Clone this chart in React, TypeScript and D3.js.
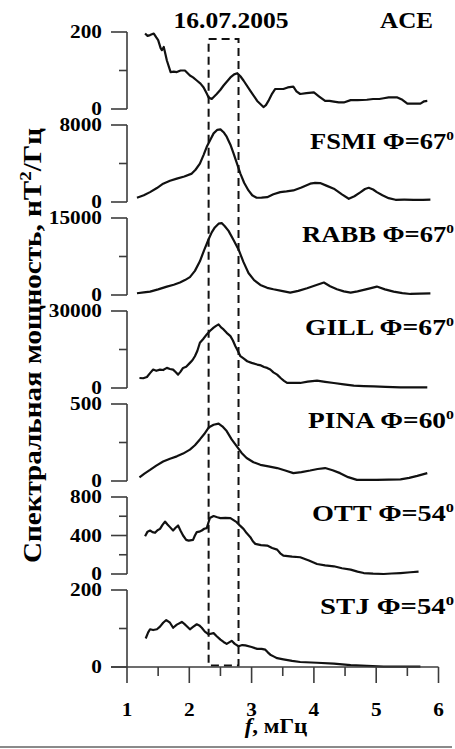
import React from "react";
import * as d3 from "d3";

const W = 455;
const H = 749;
const FONT = "'Liberation Serif', 'Times New Roman', serif";
const SX = 1.15;

const TITLE = "16.07.2005";
const STATIONS = ["ACE", "FSMI", "RABB", "GILL", "PINA", "OTT", "STJ"];
const PHI = ["", "67", "67", "67", "60", "54", "54"];
const Y_MAX = [200, 8000, 15000, 30000, 500, 800, 200];
const Y_TICK_STEP = [100, 4000, 7500, 15000, 250, 200, 100];
const Y_LABEL_STEP = [200, 8000, 15000, 30000, 500, 400, 200];
const X_TICKS = [1, 2, 3, 4, 5, 6];
const X_MINOR = [1.5, 2.5, 3.5, 4.5, 5.5];
const WINDOW_F = [2.31, 2.79];

const ACE: [number, number][] = [
  [1.29, 196], [1.33, 190], [1.37, 192], [1.43, 196], [1.47, 186], [1.5, 179], [1.54, 158], [1.56, 153],
  [1.59, 161], [1.62, 140], [1.64, 126], [1.7, 96], [1.75, 97], [1.8, 96], [1.86, 100], [1.93, 100],
  [2.01, 87], [2.06, 82], [2.12, 74], [2.18, 66], [2.23, 56], [2.28, 40], [2.31, 30], [2.36, 26],
  [2.44, 39], [2.5, 50], [2.55, 61], [2.66, 82], [2.72, 90], [2.77, 93], [2.82, 85], [2.87, 74],
  [2.98, 47], [3.09, 21], [3.19, 5], [3.23, 10], [3.27, 21], [3.33, 40], [3.38, 52], [3.45, 52],
  [3.51, 52], [3.58, 56], [3.67, 58], [3.72, 46], [3.78, 39], [3.88, 41], [4.0, 43], [4.08, 33],
  [4.18, 21], [4.25, 21], [4.32, 19], [4.4, 17], [4.48, 17], [4.59, 23], [4.7, 23], [4.85, 24],
  [4.95, 26], [5.05, 26], [5.12, 28], [5.2, 30], [5.34, 30], [5.42, 24], [5.5, 14], [5.6, 14],
  [5.71, 14], [5.77, 20], [5.82, 21],
];

const FSMI: [number, number][] = [
  [1.16, 440], [1.27, 700], [1.37, 1025], [1.48, 1450], [1.58, 1900], [1.69, 2200], [1.8, 2425],
  [1.92, 2650], [2.04, 2950], [2.1, 3350], [2.17, 3990], [2.23, 4900], [2.28, 5730], [2.34, 6500],
  [2.39, 7130], [2.45, 7500], [2.5, 7550], [2.55, 7250], [2.6, 6780], [2.66, 5950], [2.71, 5040],
  [2.77, 3900], [2.82, 2950], [2.88, 2000], [2.95, 1200], [3.01, 700], [3.08, 440], [3.16, 450],
  [3.25, 500], [3.35, 800], [3.46, 1025], [3.56, 1100], [3.67, 1200], [3.8, 1500], [3.94, 1900],
  [4.02, 1980], [4.1, 1970], [4.2, 1700], [4.32, 1380], [4.45, 800], [4.56, 335], [4.65, 600],
  [4.75, 1025], [4.82, 1350], [4.88, 1480], [4.95, 1300], [5.01, 1025], [5.1, 700], [5.2, 400],
  [5.31, 230], [5.45, 240], [5.6, 230], [5.75, 220], [5.87, 240],
];

const RABB: [number, number][] = [
  [1.16, 335], [1.27, 500], [1.37, 650], [1.5, 1100], [1.64, 1640], [1.75, 2000], [1.85, 2430],
  [1.93, 2900], [2.01, 3490], [2.09, 4700], [2.17, 6570], [2.24, 8800], [2.31, 10860], [2.36, 12200],
  [2.41, 13160], [2.47, 13900], [2.52, 14010], [2.57, 13400], [2.63, 12490], [2.71, 10700],
  [2.79, 8880], [2.87, 6400], [2.95, 4280], [3.04, 2900], [3.14, 1970], [3.25, 1400], [3.35, 1120],
  [3.48, 800], [3.62, 450], [3.75, 800], [3.89, 1320], [4.03, 1900], [4.16, 2430], [4.26, 1700],
  [4.37, 1120], [4.48, 700], [4.59, 450], [4.7, 700], [4.8, 990], [4.9, 1300], [5.01, 1640],
  [5.14, 1100], [5.28, 650], [5.42, 350], [5.55, 200], [5.7, 250], [5.87, 335],
];

const GILL: [number, number][] = [
  [1.2, 3900], [1.26, 3800], [1.32, 4300], [1.37, 5800], [1.42, 7170], [1.47, 6700], [1.53, 7170],
  [1.58, 7000], [1.64, 7830], [1.69, 7400], [1.74, 7170], [1.78, 6200], [1.82, 5210], [1.86, 6400],
  [1.9, 7830], [1.95, 8300], [2.01, 9790], [2.05, 10800], [2.09, 12380], [2.13, 14500], [2.17, 17620],
  [2.22, 19000], [2.28, 20870], [2.33, 22200], [2.39, 23500], [2.43, 24200], [2.47, 24790],
  [2.51, 23600], [2.55, 22830], [2.6, 21500], [2.66, 20210], [2.7, 18500], [2.74, 16290],
  [2.78, 14400], [2.82, 12380], [2.87, 11500], [2.93, 10420], [3.0, 9800], [3.09, 9130],
  [3.15, 8800], [3.2, 8200], [3.25, 7830], [3.3, 7200], [3.35, 6100], [3.41, 5210], [3.47, 3800],
  [3.52, 2800], [3.57, 1960], [3.67, 2000], [3.78, 1960], [3.9, 2500], [4.05, 2860], [4.18, 2400],
  [4.32, 1960], [4.48, 1400], [4.64, 900], [4.8, 750], [4.96, 630], [5.15, 450], [5.39, 240],
  [5.6, 260], [5.82, 240],
];

const PINA: [number, number][] = [
  [1.2, 24], [1.28, 48], [1.37, 72], [1.47, 100], [1.58, 127], [1.69, 145], [1.8, 160], [1.9, 178],
  [2.01, 204], [2.09, 232], [2.17, 270], [2.24, 305], [2.31, 347], [2.39, 365], [2.47, 373],
  [2.53, 355], [2.6, 324], [2.68, 270], [2.76, 226], [2.84, 182], [2.92, 149], [3.03, 122],
  [3.14, 105], [3.27, 95], [3.41, 84], [3.54, 68], [3.67, 51], [3.8, 58], [3.94, 68], [4.06, 78],
  [4.18, 84], [4.3, 70], [4.42, 51], [4.55, 25], [4.69, 7], [4.85, 7], [5.01, 7], [5.2, 9],
  [5.39, 11], [5.53, 20], [5.66, 33], [5.82, 51],
];

const OTT: [number, number][] = [
  [1.29, 393], [1.33, 440], [1.37, 452], [1.41, 435], [1.45, 428], [1.49, 455], [1.53, 469],
  [1.57, 510], [1.61, 545], [1.65, 515], [1.69, 487], [1.74, 452], [1.78, 480], [1.82, 504],
  [1.86, 450], [1.9, 400], [1.95, 355], [1.99, 347], [2.06, 355], [2.09, 400], [2.12, 435],
  [2.16, 440], [2.2, 452], [2.24, 470], [2.28, 477], [2.31, 540], [2.33, 581], [2.39, 602],
  [2.45, 590], [2.5, 581], [2.58, 583], [2.66, 581], [2.71, 560], [2.76, 539], [2.81, 505],
  [2.87, 469], [2.92, 425], [2.98, 383], [3.02, 340], [3.06, 313], [3.15, 300], [3.25, 295],
  [3.33, 270], [3.41, 253], [3.46, 215], [3.51, 191], [3.65, 180], [3.78, 174], [3.92, 140],
  [4.05, 104], [4.18, 90], [4.32, 80], [4.45, 60], [4.59, 45], [4.7, 25], [4.8, 10], [4.95, 3],
  [5.12, 0], [5.25, 5], [5.39, 10], [5.55, 18], [5.68, 24],
];

const STJ: [number, number][] = [
  [1.3, 74], [1.34, 90], [1.37, 98], [1.42, 96], [1.48, 98], [1.53, 105], [1.58, 115], [1.63, 122],
  [1.69, 115], [1.74, 102], [1.8, 110], [1.88, 117], [1.92, 112], [1.96, 106], [2.01, 98],
  [2.06, 104], [2.12, 111], [2.16, 108], [2.2, 102], [2.25, 92], [2.31, 85], [2.39, 88], [2.44, 80],
  [2.5, 71], [2.55, 65], [2.6, 60], [2.64, 64], [2.68, 68], [2.73, 60], [2.79, 54], [2.85, 57],
  [2.9, 56], [3.0, 52], [3.09, 47], [3.16, 47], [3.22, 45], [3.26, 38], [3.3, 32], [3.36, 27],
  [3.41, 23], [3.51, 20], [3.65, 16], [3.78, 13], [4.05, 11], [4.32, 9], [4.59, 5], [4.85, 3],
  [5.12, 1], [5.39, 1], [5.71, 1],
];

const SERIES = [ACE, FSMI, RABB, GILL, PINA, OTT, STJ];
const LABEL_WIDTH = [53, 144, 152, 149, 146, 142, 134];

const PANEL_TOP0 = 32;
const PANEL_STEP = 93;
const PANEL_H = 77;
const AXIS_X = 127;
const AXIS_COLOR = "#3c3c3c";

export default function App() {
  const x = d3.scaleLinear().domain([1, 6]).range([AXIS_X, 438.5]);
  const lastBottom = PANEL_TOP0 + 6 * PANEL_STEP + PANEL_H;

  const panels = STATIONS.map((name, i) => {
    const top = PANEL_TOP0 + i * PANEL_STEP;
    const y = d3.scaleLinear().domain([0, Y_MAX[i]]).range([top + PANEL_H, top]);
    const ticks = d3.range(0, Y_MAX[i] + Y_TICK_STEP[i] / 2, Y_TICK_STEP[i]);
    const line = d3
      .line<[number, number]>()
      .x((d) => x(d[0]))
      .y((d) => y(d[1]));
    return { name, i, top, y, ticks, path: line(SERIES[i]) || "" };
  });

  return (
    <svg
      width={W}
      height={H}
      style={{ position: "absolute", left: 0, top: 0, background: "#fff" }}
      fontFamily={FONT}
      fontWeight="bold"
    >
      <rect x={0} y={0} width={W} height={H} fill="#fff" />

      {/* Title */}
      <text x={231} y={28} textAnchor="middle" fontSize={23.5} textLength={115} lengthAdjust="spacingAndGlyphs">
        {TITLE}
      </text>

      {panels.map((p) => (
        <g key={p.name}>
          <line x1={AXIS_X} x2={AXIS_X} y1={p.top} y2={p.top + PANEL_H} stroke={AXIS_COLOR} strokeWidth={1.6} />
          {p.ticks.map((t) => {
            const major = Math.abs(t % Y_LABEL_STEP[p.i]) < 1e-9;
            const yy = p.y(t);
            return (
              <g key={t}>
                <line x1={AXIS_X - (major ? 16 : 8)} x2={AXIS_X} y1={yy} y2={yy} stroke={AXIS_COLOR} strokeWidth={1.6} />
                {major && (
                  <text
                    transform={`translate(102,${yy + 6}) scale(${SX},1)`}
                    textAnchor="end"
                    fontSize={18.5}
                  >
                    {t}
                  </text>
                )}
              </g>
            );
          })}
          <path d={p.path} fill="none" stroke="#111" strokeWidth={2.2} strokeLinejoin="round" />
          {p.i === 0 ? (
            <text x={433} y={28} textAnchor="end" fontSize={23} textLength={LABEL_WIDTH[0]} lengthAdjust="spacingAndGlyphs">
              {p.name}
            </text>
          ) : (
            <text
              x={454}
              y={p.top + 24}
              textAnchor="end"
              fontSize={22.5}
              textLength={LABEL_WIDTH[p.i]}
              lengthAdjust="spacingAndGlyphs"
            >
              {p.name} Φ={PHI[p.i]}
              <tspan fontSize={13} dy={-9}>0</tspan>
            </text>
          )}
        </g>
      ))}

      {/* dashed window */}
      <rect
        x={x(WINDOW_F[0])}
        y={39}
        width={x(WINDOW_F[1]) - x(WINDOW_F[0])}
        height={lastBottom - 1.5 - 39}
        fill="none"
        stroke="#111"
        strokeWidth={2}
        strokeDasharray="8,5"
      />

      {/* X axis */}
      <line x1={AXIS_X - 16} x2={x(6)} y1={lastBottom} y2={lastBottom} stroke={AXIS_COLOR} strokeWidth={1.6} />
      {X_TICKS.map((t) => (
        <g key={t}>
          <line x1={x(t)} x2={x(t)} y1={lastBottom} y2={lastBottom + 16} stroke={AXIS_COLOR} strokeWidth={1.6} />
          <text transform={`translate(${x(t)},716) scale(${SX},1)`} textAnchor="middle" fontSize={18.5}>
            {t}
          </text>
        </g>
      ))}
      {X_MINOR.map((t) => (
        <line key={t} x1={x(t)} x2={x(t)} y1={lastBottom} y2={lastBottom + 9} stroke={AXIS_COLOR} strokeWidth={1.6} />
      ))}
      <text transform={`translate(276,733) scale(${SX},1)`} textAnchor="middle" fontSize={20}>
        <tspan fontStyle="italic">f</tspan>, мГц
      </text>

      {/* Y label */}
      <text
        transform="translate(41,345.5) rotate(-90)"
        textAnchor="middle"
        fontSize={26}
        textLength={435}
        lengthAdjust="spacingAndGlyphs"
      >
        Спектральная мощность, нТ
        <tspan fontSize={17} dy={-10}>2</tspan>
        <tspan dy={10}>/Гц</tspan>
      </text>

      {/* bottom border line */}
      <line x1={0} x2={452} y1={747} y2={747} stroke="#8a8a8a" strokeWidth={2} />
    </svg>
  );
}
